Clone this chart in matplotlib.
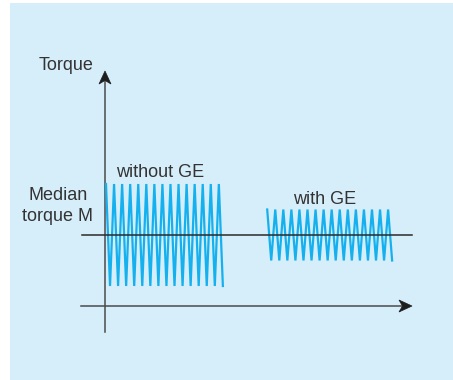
import numpy as np
import matplotlib
matplotlib.use("Agg")
import matplotlib.pyplot as plt
from matplotlib.patches import Rectangle, Polygon

plt.rcParams['font.family'] = ['Liberation Sans', 'DejaVu Sans']

# Torque swings around the median torque M (M = 0), one value per half-cycle
without_ge_torque = [1.0, -1.0, 1.0, -1.0, 1.0, -1.0, 1.0, -1.0, 1.0, -1.0,
                     1.0, -1.0, 1.0, -1.0, 1.0, -1.0, 1.0, -1.0, 1.0, -1.0,
                     1.0, -1.0, 1.0, -1.0, 1.0, -1.0, 1.0, -1.0, 1.0, -1.0]
with_ge_torque = [0.5, -0.5, 0.5, -0.5, 0.5, -0.5, 0.5, -0.5, 0.5, -0.5,
                  0.5, -0.5, 0.5, -0.5, 0.5, -0.5, 0.5, -0.5, 0.5, -0.5,
                  0.5, -0.5, 0.5, -0.5, 0.5, -0.5, 0.5, -0.5, 0.5, -0.5,
                  0.5, -0.5]
without_ge_start = 0
with_ge_start = 40

W, H = 453, 380
fig = plt.figure(figsize=(W / 100, H / 100), dpi=100)
fig.patch.set_facecolor('white')

ax = fig.add_axes([0, 0, 1, 1])
ax.set_axis_off()
ax.patch.set_alpha(0)

# light blue panel
ax.add_patch(Rectangle((10 / W, 0), 1 - 10 / W, 1 - 3 / H,
                       transform=fig.transFigure, facecolor='#d6edfa',
                       edgecolor='none', zorder=0))

# data units: 1 time unit = half-cycle, 1 torque unit = full swing without GE
px_t, px_tau = 4.03, 51.0
x0_px, y0_px = 106, 235
ax.set_xlim(-x0_px / px_t, (W - x0_px) / px_t)
ax.set_ylim(-(H - y0_px) / px_tau, y0_px / px_tau)


def to_data(xp, yp):
    return (xp - x0_px) / px_t, (y0_px - yp) / px_tau


def pix(xp, yp):
    return (xp / W, 1 - yp / H)


cyan = '#14b1ee'
t1 = np.arange(len(without_ge_torque)) + without_ge_start
t2 = np.arange(len(with_ge_torque)) + with_ge_start
ax.plot(t1, without_ge_torque, color=cyan, lw=1.6, solid_joinstyle='miter', zorder=3)
ax.plot(t2, with_ge_torque, color=cyan, lw=1.6, solid_joinstyle='miter', zorder=3)

# median torque line
a = to_data(82, 235); b = to_data(412, 235)
ax.plot([a[0], b[0]], [a[1], b[1]], color='#2a2a2a', lw=1.1, zorder=4)

# axes lines
axis_col = '#4a4a4a'
a = to_data(81, 306); b = to_data(402, 306)
ax.plot([a[0], b[0]], [a[1], b[1]], color=axis_col, lw=1.1, zorder=2)
a = to_data(105, 332); b = to_data(105, 80)
ax.plot([a[0], b[0]], [a[1], b[1]], color=axis_col, lw=1.1, zorder=2)

# arrow heads (stealth shape)
head_col = '#1e1e1e'
hx = [pix(412, 306), pix(399, 300), pix(402.5, 306), pix(399, 312)]
hy = [pix(105, 71), pix(99, 84), pix(105, 80.5), pix(111, 84)]
for pts in (hx, hy):
    ax.add_patch(Polygon(pts, closed=True, transform=fig.transFigure,
                         facecolor=head_col, edgecolor=head_col, lw=0.5, zorder=5))

txt = dict(color='#333333', fontsize=13, va='baseline', transform=fig.transFigure)
fig.text(*pix(39, 70), 'Torque', ha='left', **txt)
fig.text(*pix(116, 177), 'without GE', ha='left', **txt)
fig.text(*pix(293, 204), 'with GE', ha='left', **txt)
fig.text(*pix(58, 200), 'Median', ha='center', **txt)
fig.text(*pix(57.5, 221), 'torque M', ha='center', **txt)

fig.savefig('out.png', dpi=100)
